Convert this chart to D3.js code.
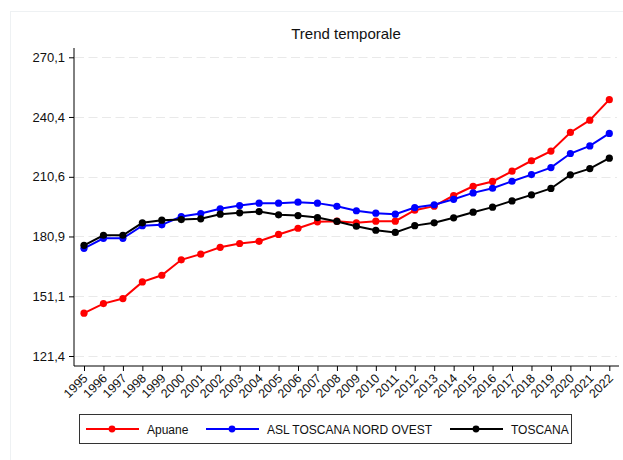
<!DOCTYPE html>
<html>
<head>
<meta charset="utf-8">
<script src="https://cdn.jsdelivr.net/npm/d3@7"></script>
<style>
  body { margin: 0; background: #fff; }
  svg { display: block; font-family: "Liberation Sans", Arial, sans-serif; }
</style>
</head>
<body>
<svg id="chart" width="623" height="460"></svg>
<script>
// data
const years = d3.range(1995, 2023);
const apuane = [142.7, 147.5, 150.0, 158.3, 161.6, 169.3, 172.1, 175.5, 177.4, 178.5,
  181.9, 185.0, 188.2, 188.5, 187.7, 188.5, 188.5, 194.0, 196.0, 201.3,
  205.9, 208.3, 213.4, 218.6, 223.4, 232.7, 238.8, 249.0];
const aslNordOvest = [175.0, 180.0, 180.0, 186.3, 186.7, 190.8, 192.3, 194.7, 196.3, 197.5,
  197.5, 198.0, 197.5, 195.9, 193.7, 192.5, 192.0, 195.3, 196.7, 199.4,
  202.6, 204.9, 208.4, 211.7, 215.2, 222.2, 226.0, 232.2];
const toscana = [176.5, 181.5, 181.5, 187.7, 189.0, 189.3, 189.7, 192.0, 192.7, 193.3,
  191.7, 191.3, 190.3, 188.4, 186.0, 184.0, 182.9, 186.3, 187.7, 190.2,
  193.0, 195.5, 198.6, 201.6, 204.8, 211.6, 214.7, 219.9];
const yTicks = [121.4, 151.1, 180.9, 210.6, 240.4, 270.1];

const series = [
  { name: "Apuane", color: "#ff0000", values: apuane },
  { name: "ASL TOSCANA NORD OVEST", color: "#0000ff", values: aslNordOvest },
  { name: "TOSCANA", color: "#000000", values: toscana }
];

const svg = d3.select("#chart");

// faint outer frame
svg.append("rect")
  .attr("x", 10.5).attr("y", 11.5)
  .attr("width", 620).attr("height", 460)
  .attr("fill", "none")
  .attr("stroke", "#eef1f3");

const plotLeft = 74, plotRight = 619, plotTop = 48, plotBottom = 366;

const x = d3.scaleLinear().domain([1995, 2022]).range([84, 609.3]);
const y = d3.scaleLinear().domain([121.4, 270.1]).range([356, 57.3]);

// gridlines
svg.append("g")
  .selectAll("line")
  .data(yTicks)
  .enter()
  .append("line")
  .attr("x1", plotLeft + 1).attr("x2", 617)
  .attr("y1", d => Math.round(y(d)) + 0.5)
  .attr("y2", d => Math.round(y(d)) + 0.5)
  .attr("stroke", "#e9e9e9")
  .attr("stroke-width", 1)
  .attr("stroke-dasharray", "9,4.5");

// y axis
const yAxis = svg.append("g")
  .attr("transform", `translate(${plotLeft},0)`)
  .call(d3.axisLeft(y).tickValues(yTicks).tickSize(5).tickPadding(4)
    .tickFormat(d => d.toFixed(1).replace(".", ",")));
yAxis.select(".domain").remove();
yAxis.append("line")
  .attr("x1", 0).attr("x2", 0)
  .attr("y1", plotTop).attr("y2", plotBottom)
  .attr("stroke", "#000");
yAxis.selectAll("text")
  .attr("font-size", 13)
  .attr("fill", "#111")
  .style("font-family", "Liberation Sans, Arial, sans-serif");

// x axis
const xAxis = svg.append("g")
  .attr("transform", `translate(0,${plotBottom})`)
  .call(d3.axisBottom(x).tickValues(years).tickSize(5).tickFormat(d3.format("d")));
xAxis.select(".domain").remove();
xAxis.append("line")
  .attr("x1", plotLeft).attr("x2", plotRight)
  .attr("y1", 0).attr("y2", 0)
  .attr("stroke", "#000");
xAxis.selectAll("text")
  .attr("font-size", 12.5)
  .attr("fill", "#111")
  .style("font-family", "Liberation Sans, Arial, sans-serif")
  .attr("text-anchor", "end")
  .attr("dy", null)
  .attr("y", 0)
  .attr("transform", "translate(4,13) rotate(-45)");

// lines and markers
const line = d3.line()
  .x((d, i) => x(years[i]))
  .y(d => y(d));

series.forEach(s => {
  const g = svg.append("g");
  g.append("path")
    .datum(s.values)
    .attr("d", line)
    .attr("fill", "none")
    .attr("stroke", s.color)
    .attr("stroke-width", 2);
  g.selectAll("circle")
    .data(s.values)
    .enter()
    .append("circle")
    .attr("cx", (d, i) => x(years[i]))
    .attr("cy", d => y(d))
    .attr("r", 3.6)
    .attr("fill", s.color);
});

// title
svg.append("text")
  .attr("x", 346)
  .attr("y", 39)
  .attr("text-anchor", "middle")
  .attr("font-size", 15)
  .attr("fill", "#111")
  .text("Trend temporale");

// legend
const legend = svg.append("g");
legend.append("rect")
  .attr("x", 79.5).attr("y", 414.5)
  .attr("width", 492).attr("height", 29)
  .attr("fill", "#fff")
  .attr("stroke", "#333");

const legendX = [86, 206, 450];
series.forEach((s, i) => {
  const lx = legendX[i];
  legend.append("line")
    .attr("x1", lx).attr("x2", lx + 53)
    .attr("y1", 429).attr("y2", 429)
    .attr("stroke", s.color)
    .attr("stroke-width", 2);
  legend.append("circle")
    .attr("cx", lx + 26).attr("cy", 429)
    .attr("r", 3.4)
    .attr("fill", s.color);
  legend.append("text")
    .attr("x", lx + 61)
    .attr("y", 433.5)
    .attr("font-size", 12)
    .attr("fill", "#111")
    .text(s.name);
});
</script>
</body>
</html>
